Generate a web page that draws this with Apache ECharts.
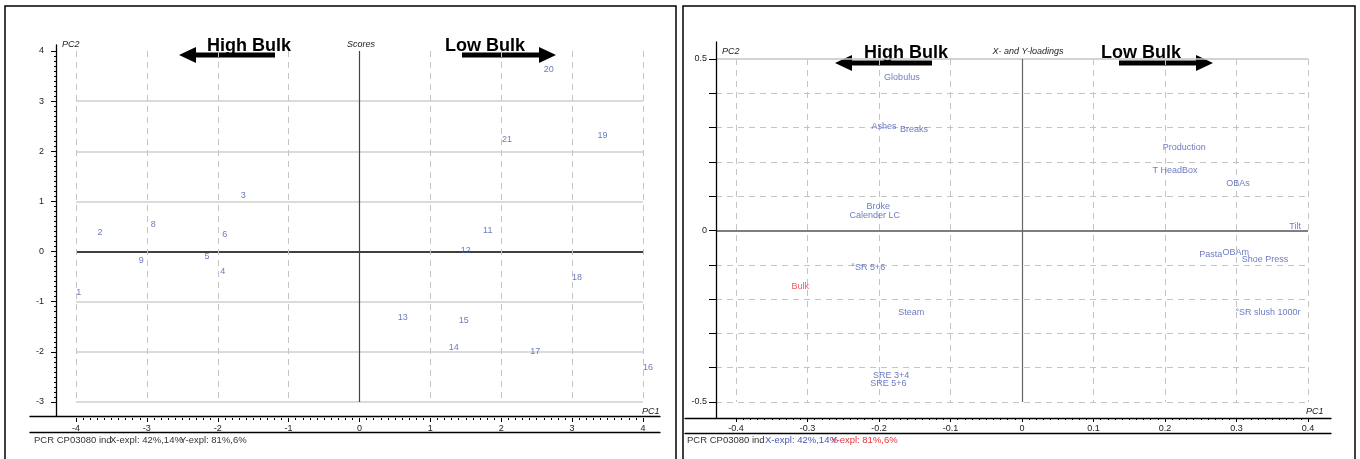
<!DOCTYPE html>
<html>
<head>
<meta charset="utf-8">
<title>PCR CP03080 - Scores and X- and Y-loadings</title>
<script src="https://cdn.jsdelivr.net/npm/echarts@6/dist/echarts.min.js"></script>
<style>
html, body {margin: 0; padding: 0; background: #fff;}
#chart {width: 1360px; height: 459px;}
</style>
</head>
<body>
<div id="chart"></div>
<script>
//----------------------Data----------------------
// Scores plot: sample numbers and their PC1 / PC2 scores
let score_names = ['1', '2', '3', '4', '5', '6', '8', '9', '11', '12', '13', '14', '15', '16', '17', '18', '19', '20', '21'];
let score_pc1 = [-3.96, -3.66, -1.64, -1.93, -2.15, -1.90, -2.91, -3.08, 1.81, 1.50, 0.61, 1.33, 1.47, 4.07, 2.48, 3.07, 3.43, 2.67, 2.08];
let score_pc2 = [-0.81, 0.39, 1.11, -0.39, -0.09, 0.35, 0.53, -0.17, 0.41, 0.03, -1.31, -1.92, -1.38, -2.32, -2.00, -0.51, 2.31, 3.64, 2.23];

// Loadings plot: X variables
let x_load_names = ['Globulus', 'Ashes', 'Breaks', 'Production', 'T HeadBox', 'OBAs', 'Broke', 'Calender LC', 'Tilt', 'Pasta', 'OBAm', 'Shoe Press', '°SR 5+6', 'Steam', '°SR slush 1000r', 'SRE 3+4', 'SRE 5+6'];
let x_load_pc1 = [-0.168, -0.193, -0.151, 0.227, 0.214, 0.302, -0.201, -0.206, 0.382, 0.264, 0.299, 0.340, -0.215, -0.155, 0.344, -0.183, -0.187];
let x_load_pc2 = [0.447, 0.303, 0.294, 0.242, 0.175, 0.137, 0.070, 0.044, 0.012, -0.070, -0.064, -0.085, -0.108, -0.239, -0.239, -0.423, -0.446];
// Loadings plot: Y variable
let y_load_names = ['Bulk'];
let y_load_pc1 = [-0.310];
let y_load_pc2 = [-0.163];

// Ticks
let score_x_ticks = [-4, -3, -2, -1, 0, 1, 2, 3, 4];
let score_y_ticks = [-3, -2, -1, 0, 1, 2, 3, 4];
let load_x_ticks = [-0.4, -0.3, -0.2, -0.1, 0, 0.1, 0.2, 0.3, 0.4];
let load_y_ticks = [-0.5, -0.4, -0.3, -0.2, -0.1, 0, 0.1, 0.2, 0.3, 0.4, 0.5];
let load_y_labels = [-0.5, 0, 0.5];

// Texts
let score_title = 'Scores';
let load_title = 'X- and Y-loadings';
let high_text = 'High Bulk';
let low_text = 'Low Bulk';
let footer_title = 'PCR CP03080 ind';
let footer_x = 'X-expl: 42%,14%';
let footer_y = 'Y-expl: 81%,6%';

//---------------------Styles---------------------
let font_family = '"Liberation Sans", Arial, sans-serif';
let blue = '#4759b0';
let red = '#e8323a';
let grid_gray = '#c4c4c4';
let none_color = 'rgba(0,0,0,0)';

let chart_dom = document.getElementById('chart');
let chart = echarts.init(chart_dom);

//---------------------Helpers--------------------
function tick_step(ticks) {
    return Math.round((ticks[1] - ticks[0]) * 1000) / 1000;
}
function is_tick(v, t) {
    return Math.abs(v - t) < 1e-9;
}
// frame axis: only draws a black line
function frame_axis(grid, pos, offset) {
    return {
        type: 'value', gridIndex: grid, position: pos, offset: offset,
        min: 0, max: 1,
        axisLine: {show: true, onZero: false, lineStyle: {color: '#000', width: 1.3}},
        axisTick: {show: false},
        axisLabel: {show: false},
        splitLine: {show: false}
    };
}
let tick_label_style = {color: '#222', fontSize: 9, fontFamily: font_family};

function arrow_points(tip, tail, y) {
    let dir = tail > tip ? 1 : -1;
    let head = 17 * dir, h = 8, w = 2.5;
    return [[tip, y], [tip + head, y - h], [tip + head, y - w], [tail, y - w],
            [tail, y + w], [tip + head, y + w], [tip + head, y + h]];
}

//----------------------Grids---------------------
let grids = [
    {left: 76, top: 51, width: 567, height: 351},    // 0 scores data
    {left: 30, top: 45, width: 630, height: 371},    // 1 scores frame
    {left: 736, top: 59, width: 572, height: 343},   // 2 loadings data
    {left: 716, top: 59, width: 592, height: 343},   // 3 loadings horizontal lines
    {left: 685, top: 42, width: 646, height: 376}    // 4 loadings frame
];
grids.forEach(function (g) { g.outerBoundsMode = 'none'; g.containLabel = false; });

//----------------------Axis----------------------
let x_axes = [
    {
        type: 'value', gridIndex: 0, position: 'bottom', offset: 16,
        min: score_x_ticks[0], max: score_x_ticks[score_x_ticks.length - 1], interval: tick_step(score_x_ticks),
        axisLine: {show: false, onZero: false},
        axisTick: {show: true, length: 4, lineStyle: {color: '#000'}},
        minorTick: {show: true, splitNumber: 10, length: 2, lineStyle: {color: '#000'}},
        axisLabel: Object.assign({margin: 6}, tick_label_style),
        splitLine: {
            show: true,
            lineStyle: {
                type: [6, 5], width: 1,
                color: score_x_ticks.map(function (t) { return t === 0 ? none_color : grid_gray; })
            }
        }
    },
    frame_axis(1, 'bottom', 0),
    frame_axis(1, 'bottom', 16),
    {
        type: 'value', gridIndex: 2, position: 'bottom', offset: 16,
        min: load_x_ticks[0], max: load_x_ticks[load_x_ticks.length - 1], interval: tick_step(load_x_ticks),
        axisLine: {show: false, onZero: false},
        axisTick: {show: true, length: 4, lineStyle: {color: '#000'}},
        minorTick: {show: true, splitNumber: 10, length: 2, lineStyle: {color: '#000'}},
        axisLabel: Object.assign({margin: 6}, tick_label_style),
        splitLine: {
            show: true,
            lineStyle: {
                type: [6, 5], width: 1,
                color: load_x_ticks.map(function (t) { return t === 0 ? none_color : grid_gray; })
            }
        }
    },
    {type: 'value', gridIndex: 3, min: 0, max: 1, show: false},
    frame_axis(4, 'bottom', 0),
    frame_axis(4, 'bottom', 15)
];

let y_axes = [
    {
        type: 'value', gridIndex: 0, position: 'left', offset: 20,
        min: score_y_ticks[0], max: score_y_ticks[score_y_ticks.length - 1], interval: tick_step(score_y_ticks),
        axisLine: {show: false, onZero: false},
        axisTick: {show: true, length: 5, lineStyle: {color: '#000'}},
        minorTick: {show: true, splitNumber: 10, length: 2, lineStyle: {color: '#000'}},
        axisLabel: Object.assign({margin: 12}, tick_label_style),
        splitLine: {
            show: true,
            lineStyle: {
                type: 'solid', width: 1.5,
                color: score_y_ticks.map(function (t, i) {
                    if (t === 0) return '#000';
                    if (i === score_y_ticks.length - 1) return none_color;
                    return '#cfcfcf';
                })
            }
        }
    },
    frame_axis(1, 'left', -26),
    {
        type: 'value', gridIndex: 2, show: false,
        min: load_y_ticks[0], max: load_y_ticks[load_y_ticks.length - 1], interval: tick_step(load_y_ticks)
    },
    {
        type: 'value', gridIndex: 3, position: 'left', offset: 0,
        min: load_y_ticks[0], max: load_y_ticks[load_y_ticks.length - 1], interval: tick_step(load_y_ticks),
        axisLine: {show: false, onZero: false},
        axisTick: {show: true, length: 7, lineStyle: {color: '#000'}},
        axisLabel: Object.assign({
            margin: 9,
            formatter: function (v) {
                return load_y_labels.some(function (t) { return is_tick(v, t); }) ? String(v) : '';
            }
        }, tick_label_style),
        splitLine: {
            show: true,
            lineStyle: {
                type: [6, 5], width: 1,
                color: load_y_ticks.map(function (t, i) {
                    return (t === 0 || i === load_y_ticks.length - 1) ? none_color : grid_gray;
                })
            }
        }
    },
    {
        type: 'value', gridIndex: 3, position: 'left', offset: 0,
        min: load_y_ticks[0], max: load_y_ticks[load_y_ticks.length - 1], interval: tick_step(load_y_ticks),
        axisLine: {show: false, onZero: false}, axisTick: {show: false}, axisLabel: {show: false},
        splitLine: {
            show: true,
            lineStyle: {
                type: 'solid', width: 1.5,
                color: load_y_ticks.map(function (t, i) {
                    if (t === 0) return '#555';
                    if (i === load_y_ticks.length - 1) return grid_gray;
                    return none_color;
                })
            }
        }
    },
    frame_axis(4, 'left', -31)
];

//---------------------Series---------------------
function point_data(names, xs, ys) {
    return names.map(function (n, i) { return [xs[i], ys[i], n]; });
}
function label_series(name, xi, yi, data, color, zero_line) {
    let s = {
        name: name, type: 'scatter',
        xAxisIndex: xi, yAxisIndex: yi,
        symbolSize: 0, clip: false, silent: true,
        data: data,
        label: {
            show: true, position: 'inside',
            color: color, fontSize: 9, fontFamily: font_family,
            formatter: function (p) { return p.value[2]; }
        }
    };
    if (zero_line) {
        s.markLine = {
            silent: true, symbol: ['none', 'none'], label: {show: false},
            lineStyle: {type: 'solid', color: zero_line, width: 1.2},
            data: [{xAxis: 0}]
        };
    }
    return s;
}
let series_list = [
    label_series('Scores', 0, 0, point_data(score_names, score_pc1, score_pc2), blue, '#444'),
    label_series('X-loadings', 3, 2, point_data(x_load_names, x_load_pc1, x_load_pc2), blue, '#666'),
    label_series('Y-loadings', 3, 2, point_data(y_load_names, y_load_pc1, y_load_pc2), red, null)
];

//--------------------Graphics--------------------
function txt(s, x, y, font, fill, align) {
    return {
        type: 'text', x: x, y: y, silent: true,
        style: {text: s, font: font, fill: fill, align: align || 'left', verticalAlign: 'middle'}
    };
}
let italic_font = 'italic 9px ' + font_family;
let bold_font = 'bold 18px ' + font_family;
let foot_font = '9.5px ' + font_family;

let graphics = [
    {type: 'rect', shape: {x: 5, y: 6, width: 671, height: 470}, style: {fill: 'none', stroke: '#000', lineWidth: 1.5}, silent: true},
    {type: 'rect', shape: {x: 683, y: 6, width: 672, height: 470}, style: {fill: 'none', stroke: '#000', lineWidth: 1.5}, silent: true},
    // scores panel
    txt('PC2', 62, 44, italic_font, '#222'),
    txt(score_title, 361, 44, italic_font, '#222', 'center'),
    txt('PC1', 642, 411, italic_font, '#222'),
    txt(high_text, 249, 46, bold_font, '#000', 'center'),
    txt(low_text, 485, 46, bold_font, '#000', 'center'),
    {type: 'polygon', shape: {points: arrow_points(179, 275, 55)}, style: {fill: '#000'}, silent: true},
    {type: 'polygon', shape: {points: arrow_points(556, 462, 55)}, style: {fill: '#000'}, silent: true},
    txt(footer_title, 34, 440, foot_font, '#333'),
    txt(footer_x, 110, 440, foot_font, '#333'),
    txt(footer_y, 180, 440, foot_font, '#333'),
    // loadings panel
    txt('PC2', 722, 51, italic_font, '#222'),
    txt(load_title, 1028, 51, italic_font, '#222', 'center'),
    txt('PC1', 1306, 411, italic_font, '#222'),
    txt(high_text, 906, 53, bold_font, '#000', 'center'),
    txt(low_text, 1141, 53, bold_font, '#000', 'center'),
    {type: 'polygon', shape: {points: arrow_points(835, 932, 63)}, style: {fill: '#000'}, silent: true},
    {type: 'polygon', shape: {points: arrow_points(1213, 1119, 63)}, style: {fill: '#000'}, silent: true},
    txt(footer_title, 687, 440, foot_font, '#333'),
    txt(footer_x, 765, 440, foot_font, blue),
    txt(footer_y, 831, 440, foot_font, red)
];

//------------------Generate Graph------------------
let option = {
    backgroundColor: '#fff',
    animation: false,
    grid: grids,
    xAxis: x_axes,
    yAxis: y_axes,
    series: series_list,
    graphic: graphics
};
chart.setOption(option, true);
</script>
</body>
</html>
